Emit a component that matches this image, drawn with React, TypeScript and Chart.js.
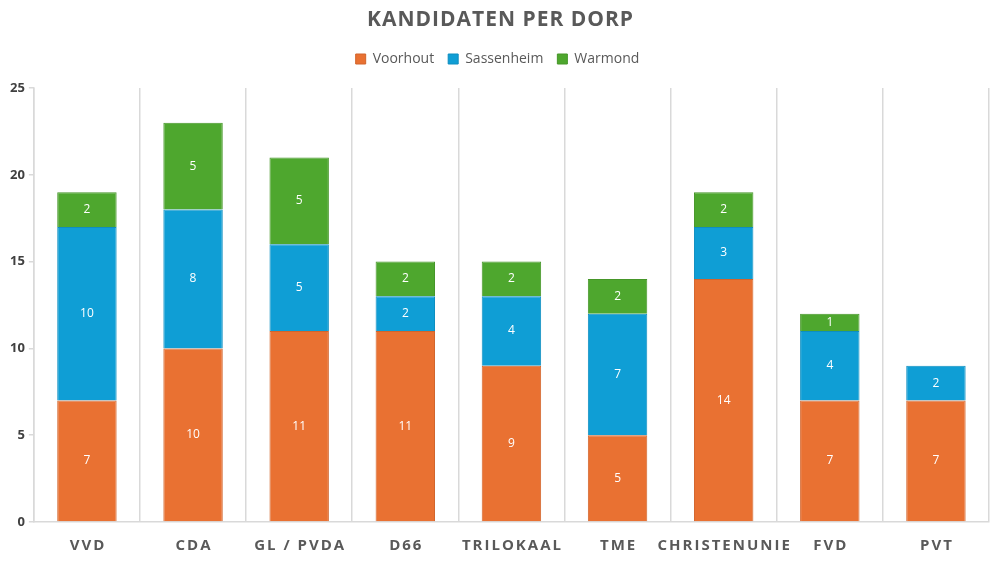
import React, { useEffect, useRef } from "react";
import { Chart, registerables } from "chart.js";

Chart.register(...registerables);

const categories = ["VVD", "CDA", "GL / PVDA", "D66", "TRILOKAAL", "TME", "CHRISTENUNIE", "FVD", "PVT"];
const voorhout = [7, 10, 11, 11, 9, 5, 14, 7, 7];
const sassenheim = [10, 8, 5, 2, 4, 7, 3, 4, 2];
const warmond = [2, 5, 5, 2, 2, 2, 2, 1, 0];
const yTicks = [0, 5, 10, 15, 20, 25];
const titleText = "KANDIDATEN PER DORP";

const FONT = "'Open Sans', Roboto, sans-serif";

const legendSpace = {
  id: "legendSpace",
  beforeInit(chart: any) {
    const lg = chart.legend;
    if (!lg) return;
    const orig = lg.fit;
    lg.fit = function () {
      orig.call(this);
      this.height += 12;
    };
  },
};

const customText = {
  id: "customText",
  afterDraw(chart: any) {
    const ctx = chart.ctx as CanvasRenderingContext2D;
    ctx.save();
    ctx.font = `400 12px ${FONT}`;
    ctx.fillStyle = "#ffffff";
    ctx.textAlign = "center";
    ctx.textBaseline = "middle";
    chart.data.datasets.forEach((ds: any, di: number) => {
      const meta = chart.getDatasetMeta(di);
      meta.data.forEach((bar: any, i: number) => {
        const v = ds.data[i];
        if (!v) return;
        const p = bar.getProps(["x", "y", "base"], true);
        ctx.fillText(String(v), p.x, (p.y + p.base) / 2);
      });
    });
    ctx.restore();

    ctx.save();
    (ctx as any).letterSpacing = "1px";
    ctx.font = `700 21px ${FONT}`;
    ctx.fillStyle = "#595959";
    ctx.textAlign = "center";
    ctx.textBaseline = "middle";
    ctx.fillText(titleText, chart.width / 2 + 0.5, 20);
    ctx.restore();

    const xs = chart.scales.x;
    ctx.save();
    (ctx as any).letterSpacing = "2px";
    ctx.font = `700 15px ${FONT}`;
    ctx.fillStyle = "#595959";
    ctx.textAlign = "center";
    ctx.textBaseline = "middle";
    categories.forEach((c, i) => {
      ctx.fillText(c, xs.getPixelForTick(i) + 1, 546);
    });
    ctx.restore();
  },
};

export default function App() {
  const ref = useRef<HTMLCanvasElement>(null);
  useEffect(() => {
    if (!ref.current) return;
    const chart = new Chart(ref.current, {
      type: "bar",
      data: {
        labels: categories,
        datasets: [
          { label: "Voorhout", data: voorhout, backgroundColor: "#E97132", borderColor: "#D2652C", borderWidth: 1 },
          { label: "Sassenheim", data: sassenheim, backgroundColor: "#0F9ED5", borderColor: "#0E8EC0", borderWidth: 1 },
          { label: "Warmond", data: warmond, backgroundColor: "#4EA72E", borderColor: "#469629", borderWidth: 1 },
        ],
      },
      plugins: [legendSpace, customText],
      options: {
        animation: false,
        responsive: true,
        maintainAspectRatio: false,
        layout: { padding: { left: 6, right: 11, top: 0, bottom: 5 } },
        datasets: { bar: { categoryPercentage: 1, barPercentage: 0.56 } },
        plugins: {
          title: {
            display: true,
            text: titleText,
            color: "rgba(0,0,0,0)",
            font: { family: FONT, size: 20, weight: "bold" },
            padding: { top: 6, bottom: 8 },
          },
          legend: {
            display: true,
            position: "top",
            labels: {
              color: "#595959",
              font: { family: FONT, size: 14 },
              boxWidth: 10,
              boxHeight: 10,
              padding: 14,
            },
          },
          tooltip: { enabled: false },
        },
        scales: {
          x: {
            stacked: true,
            offset: true,
            grid: { offset: true, color: "#d9d9d9", lineWidth: 1.5, drawTicks: false },
            border: { display: true, color: "#d9d9d9", width: 1.5 },
            ticks: {
              color: "rgba(0,0,0,0)",
              font: { family: FONT, size: 15, weight: "bold" },
              padding: 9,
              maxRotation: 0,
              minRotation: 0,
              autoSkip: false,
            },
          },
          y: {
            stacked: true,
            min: 0,
            max: 25,
            afterBuildTicks: (scale: any) => {
              scale.ticks = yTicks.map((v) => ({ value: v }));
            },
            grid: { drawOnChartArea: false, drawTicks: true, tickLength: 5, color: "#d9d9d9", lineWidth: 1.5 },
            border: { display: true, color: "#d9d9d9", width: 1.5 },
            ticks: {
              color: "#404040",
              font: { family: FONT, size: 13, weight: "bold" },
              padding: 4,
            },
          },
        },
      },
    });
    return () => chart.destroy();
  }, []);
  return (
    <div style={{ position: "fixed", left: 0, top: 0, width: 1000, height: 563, background: "#fff" }}>
      <canvas ref={ref} />
    </div>
  );
}
